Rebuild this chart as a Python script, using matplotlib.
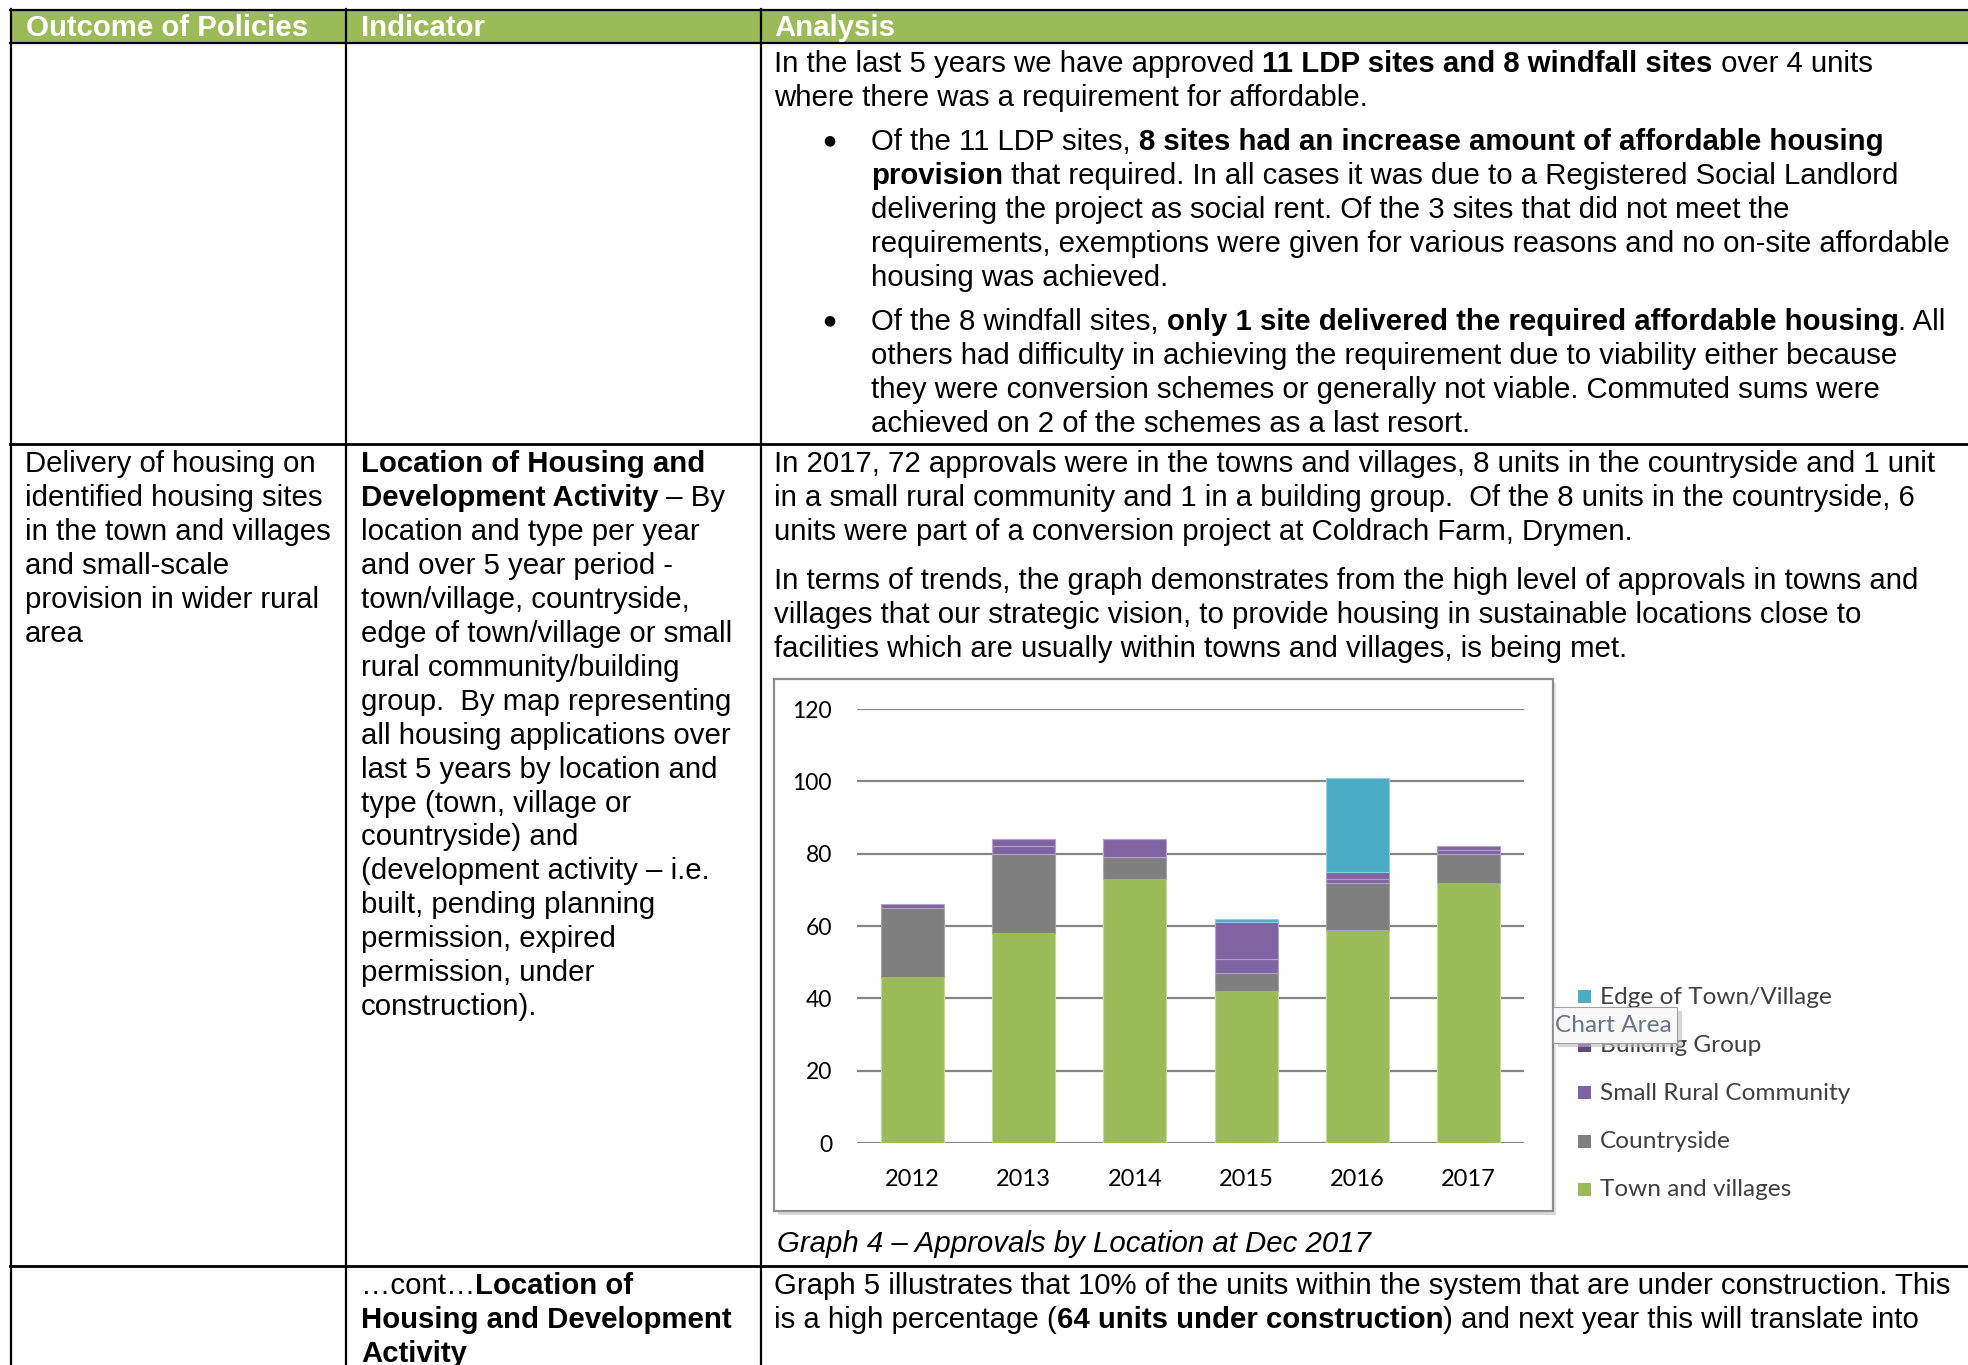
import matplotlib
matplotlib.use("Agg")
import matplotlib.pyplot as plt
from matplotlib.patches import Rectangle
from matplotlib.font_manager import FontProperties

# chart data (units approved per year)
years = ["2012", "2013", "2014", "2015", "2016", "2017"]
town_villages = [46, 58, 73, 42, 59, 72]
countryside = [19, 22, 6, 5, 13, 8]
small_rural = [1, 2, 5, 4, 1, 1]
building_group = [0, 2, 0, 10, 2, 1]
edge_town = [0, 0, 0, 1, 26, 0]
yticks = [0, 20, 40, 60, 80, 100, 120]

series_names = ["Town and villages", "Countryside", "Small Rural Community",
                "Building Group", "Edge of Town/Village"]
series_colors = ["#9BBB59", "#7F7F7F", "#8064A2", "#8064A2", "#4BACC6"]
series_edges = ["#c5d9a0", "#a6a6a6", "#b3a2c7", "#b3a2c7", "#92cddc"]

# document text
header = ["Outcome of Policies", "Indicator", "Analysis"]

row1_intro = [
    [("In the last 5 years we have approved ", "normal"), ("11 LDP sites and 8 windfall sites", "bold"),
     (" over 4 units", "normal")],
    [("where there was a requirement for affordable.", "normal")],
]
row1_bullet1 = [
    [("Of the 11 LDP sites, ", "normal"), ("8 sites had an increase amount of affordable housing", "bold")],
    [("provision", "bold"), (" that required. In all cases it was due to a Registered Social Landlord", "normal")],
    [("delivering the project as social rent. Of the 3 sites that did not meet the", "normal")],
    [("requirements, exemptions were given for various reasons and no on-site affordable", "normal")],
    [("housing was achieved.", "normal")],
]
row1_bullet2 = [
    [("Of the 8 windfall sites, ", "normal"), ("only 1 site delivered the required affordable housing", "bold"),
     (". All", "normal")],
    [("others had difficulty in achieving the requirement due to viability either because", "normal")],
    [("they were conversion schemes or generally not viable. Commuted sums were", "normal")],
    [("achieved on 2 of the schemes as a last resort.", "normal")],
]
row2_outcome = ["Delivery of housing on", "identified housing sites", "in the town and villages",
                "and small-scale", "provision in wider rural", "area"]
row2_indicator = [
    [("Location of Housing and", "bold")],
    [("Development Activity", "bold"), (" \u2013 By", "normal")],
    [("location and type per year", "normal")],
    [("and over 5 year period -", "normal")],
    [("town/village, countryside,", "normal")],
    [("edge of town/village or small", "normal")],
    [("rural community/building", "normal")],
    [("group.  By map representing", "normal")],
    [("all housing applications over", "normal")],
    [("last 5 years by location and", "normal")],
    [("type (town, village or", "normal")],
    [("countryside) and", "normal")],
    [("(development activity \u2013 i.e.", "normal")],
    [("built, pending planning", "normal")],
    [("permission, expired", "normal")],
    [("permission, under", "normal")],
    [("construction).", "normal")],
]
row2_para1 = ["In 2017, 72 approvals were in the towns and villages, 8 units in the countryside and 1 unit",
              "in a small rural community and 1 in a building group.  Of the 8 units in the countryside, 6",
              "units were part of a conversion project at Coldrach Farm, Drymen."]
row2_para2 = ["In terms of trends, the graph demonstrates from the high level of approvals in towns and",
              "villages that our strategic vision, to provide housing in sustainable locations close to",
              "facilities which are usually within towns and villages, is being met."]
caption = "Graph 4 \u2013 Approvals by Location at Dec 2017"
row3_indicator = [
    [("\u2026cont\u2026", "normal"), ("Location of", "bold")],
    [("Housing and Development", "bold")],
    [("Activity", "bold")],
]
row3_analysis = [
    [("Graph 5 illustrates that 10% of the units within the system that are under construction. This", "normal")],
    [("is a high percentage (", "normal"), ("64 units under construction", "bold"),
     (") and next year this will translate into", "normal")],
]

W, H = 1968, 1365
FS = 21.15
DOC_FONT = "Liberation Sans"
CHART_FONT = "Lato"

fig = plt.figure(figsize=(W / 100, H / 100), dpi=100)
doc = fig.add_axes([0, 0, 1, 1])
doc.set_xlim(0, W)
doc.set_ylim(H, 0)
doc.axis("off")
renderer = fig.canvas.get_renderer()


def seg_width(s, weight, style="normal"):
    fp = FontProperties(family=DOC_FONT, size=FS, weight=weight, style=style)
    w1 = renderer.get_text_width_height_descent("X" + s + "X", fp, ismath=False)[0]
    w0 = renderer.get_text_width_height_descent("XX", fp, ismath=False)[0]
    return w1 - w0


def put_line(x, y, segs, color="black"):
    for s, w in segs:
        doc.text(x, y, s, fontsize=FS, fontweight=w, family=DOC_FONT,
                 va="baseline", ha="left", color=color)
        x += seg_width(s, w)


def bullet(y):
    doc.text(829, y - 10, "\u25CF", fontsize=10, family="DejaVu Sans", va="center", ha="center")


pitch = 33.9

# header band and table grid
doc.add_patch(Rectangle((10, 10), W - 10, 32, facecolor="#9BBB59", edgecolor="none"))
for x, t in zip([26, 361, 774], header):
    doc.text(x, 35.5, t, fontsize=FS, fontweight="bold", family=DOC_FONT,
             color="white", va="baseline")
lw = 1.6
doc.plot([10, W], [9.5, 9.5], color="black", lw=lw)
doc.plot([10, W], [42.5, 42.5], color="black", lw=lw)
doc.plot([10, W], [444, 444], color="black", lw=2.0)
doc.plot([10, W], [1266, 1266], color="black", lw=2.0)
for x in [11, 346, 761]:
    doc.plot([x, x], [9, H], color="black", lw=lw)

# row 1
y = 72
for segs in row1_intro:
    put_line(774, y, segs)
    y += pitch
y = 150
bullet(y)
for segs in row1_bullet1:
    put_line(871, y, segs)
    y += pitch
y = 330
bullet(y)
for segs in row1_bullet2:
    put_line(871, y, segs)
    y += pitch

# row 2
y0 = 472.5
for i, t in enumerate(row2_outcome):
    put_line(25, y0 + i * pitch, [(t, "normal")])
for i, segs in enumerate(row2_indicator):
    put_line(361, y0 + i * pitch, segs)
for i, t in enumerate(row2_para1):
    put_line(774, y0 + i * pitch, [(t, "normal")])
for i, t in enumerate(row2_para2):
    put_line(774, 589 + i * pitch, [(t, "normal")])
doc.text(777, 1252, caption, fontsize=FS, style="italic", family=DOC_FONT, va="baseline")

# row 3
for i, segs in enumerate(row3_indicator):
    put_line(361, 1294.5 + i * pitch, segs)
for i, segs in enumerate(row3_analysis):
    put_line(774, 1294.5 + i * pitch, segs)

# chart frame
doc.add_patch(Rectangle((778, 1211), 778, 4, facecolor="#d9d9d9", edgecolor="none"))
doc.add_patch(Rectangle((1553, 683), 3, 530, facecolor="#e3e3e3", edgecolor="none"))
doc.add_patch(Rectangle((774, 679), 779, 532, facecolor="white", edgecolor="#8c8c8c", lw=1.6))

# chart plot area
ax = fig.add_axes([857 / W, 1 - 1143 / H, 667 / W, 434 / H])
ax.set_xlim(-0.5, len(years) - 0.5)
ax.set_ylim(0, 120)
for s in ax.spines.values():
    s.set_visible(False)
ax.set_yticks(yticks)
ax.set_yticklabels([str(v) for v in yticks], fontsize=16.5, family=CHART_FONT)
ax.set_xticks(range(len(years)))
ax.set_xticklabels(years, fontsize=17, family=CHART_FONT)
ax.tick_params(length=0, pad=18)
ax.tick_params(axis="x", pad=19)
ax.yaxis.grid(True, color="#868686", lw=1.6)
ax.set_axisbelow(True)

stack = [town_villages, countryside, small_rural, building_group, edge_town]
bottom = [0] * len(years)
xs = list(range(len(years)))
for vals, c, ec, name in zip(stack, series_colors, series_edges, series_names):
    widths = [0.8 if v > 0 else 0 for v in vals]
    ax.bar(xs, vals, width=0.567, bottom=bottom, color=c, edgecolor=ec, lw=widths, label=name)
    bottom = [b + v for b, v in zip(bottom, vals)]

# legend (drawn manually beside the chart)
leg_y = [1190, 1142, 1093, 1046, 997]
for yy, c, name in zip(leg_y, series_colors, series_names):
    col = "#604A7B" if name == "Building Group" else c
    doc.add_patch(Rectangle((1578, yy - 7), 13, 13, facecolor=col, edgecolor="none"))
    doc.text(1600, yy, name, fontsize=17.6, family=CHART_FONT, color="#404040", va="center")

# "Chart Area" tooltip
doc.add_patch(Rectangle((1558, 1011), 124, 36, facecolor="#bdbdbd", edgecolor="none", alpha=0.6, zorder=5))
doc.add_patch(Rectangle((1553, 1007), 124, 36, facecolor="#f8f8f8", edgecolor="#a0a0a0", lw=0.8, zorder=6))
doc.text(1555, 1026, "Chart Area", fontsize=17.6, family=CHART_FONT, color="#6a7488", va="center", zorder=7)

fig.savefig("out.png", dpi=100)
